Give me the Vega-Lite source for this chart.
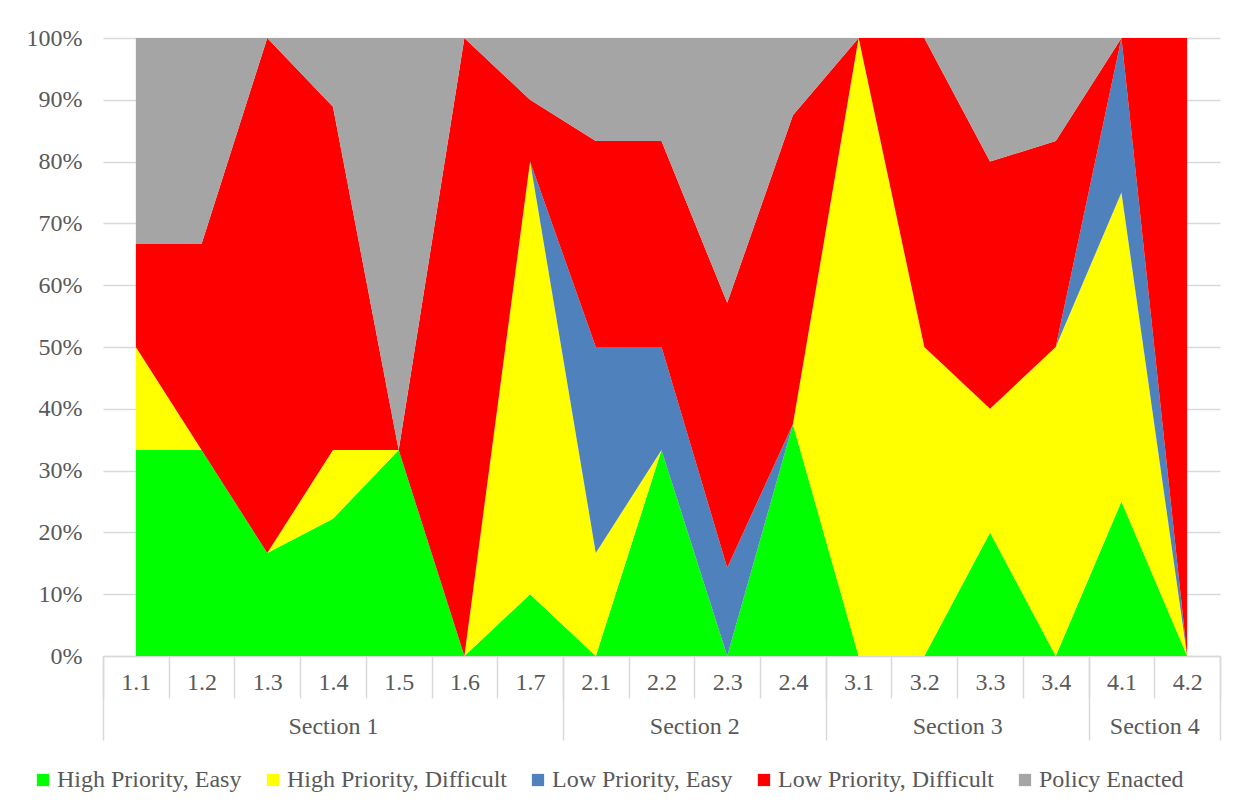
{
  "$schema": "https://vega.github.io/schema/vega-lite/v6.json",
  "width": 1117,
  "height": 618,
  "autosize": {"type": "none"},
  "padding": {"left": 103, "top": 38, "right": 16, "bottom": 151},
  "background": "white",
  "config": {
    "view": {"stroke": null},
    "font": "Liberation Serif",
    "axis": {
      "labelFont": "Liberation Serif",
      "labelFontSize": 24,
      "labelColor": "#595959",
      "titleFont": "Liberation Serif"
    },
    "legend": {
      "labelFont": "Liberation Serif",
      "labelFontSize": 24,
      "labelColor": "#595959"
    }
  },
  "datasets": {
    "tiers": [
      {"tier": "High Priority, Easy", "rank": 1},
      {"tier": "High Priority, Difficult", "rank": 2},
      {"tier": "Low Priority, Easy", "rank": 3},
      {"tier": "Low Priority, Difficult", "rank": 4},
      {"tier": "Policy Enacted", "rank": 5}
    ],
    "items": [
      {"cat": "1.1", "High Priority, Easy": 2, "High Priority, Difficult": 1, "Low Priority, Easy": 0, "Low Priority, Difficult": 1, "Policy Enacted": 2},
      {"cat": "1.2", "High Priority, Easy": 1, "High Priority, Difficult": 0, "Low Priority, Easy": 0, "Low Priority, Difficult": 1, "Policy Enacted": 1},
      {"cat": "1.3", "High Priority, Easy": 1, "High Priority, Difficult": 0, "Low Priority, Easy": 0, "Low Priority, Difficult": 5, "Policy Enacted": 0},
      {"cat": "1.4", "High Priority, Easy": 2, "High Priority, Difficult": 1, "Low Priority, Easy": 0, "Low Priority, Difficult": 5, "Policy Enacted": 1},
      {"cat": "1.5", "High Priority, Easy": 1, "High Priority, Difficult": 0, "Low Priority, Easy": 0, "Low Priority, Difficult": 0, "Policy Enacted": 2},
      {"cat": "1.6", "High Priority, Easy": 0, "High Priority, Difficult": 0, "Low Priority, Easy": 0, "Low Priority, Difficult": 1, "Policy Enacted": 0},
      {"cat": "1.7", "High Priority, Easy": 1, "High Priority, Difficult": 7, "Low Priority, Easy": 0, "Low Priority, Difficult": 1, "Policy Enacted": 1},
      {"cat": "2.1", "High Priority, Easy": 0, "High Priority, Difficult": 1, "Low Priority, Easy": 2, "Low Priority, Difficult": 2, "Policy Enacted": 1},
      {"cat": "2.2", "High Priority, Easy": 2, "High Priority, Difficult": 0, "Low Priority, Easy": 1, "Low Priority, Difficult": 2, "Policy Enacted": 1},
      {"cat": "2.3", "High Priority, Easy": 0, "High Priority, Difficult": 0, "Low Priority, Easy": 1, "Low Priority, Difficult": 3, "Policy Enacted": 3},
      {"cat": "2.4", "High Priority, Easy": 3, "High Priority, Difficult": 0, "Low Priority, Easy": 0, "Low Priority, Difficult": 4, "Policy Enacted": 1},
      {"cat": "3.1", "High Priority, Easy": 0, "High Priority, Difficult": 1, "Low Priority, Easy": 0, "Low Priority, Difficult": 0, "Policy Enacted": 0},
      {"cat": "3.2", "High Priority, Easy": 0, "High Priority, Difficult": 1, "Low Priority, Easy": 0, "Low Priority, Difficult": 1, "Policy Enacted": 0},
      {"cat": "3.3", "High Priority, Easy": 1, "High Priority, Difficult": 1, "Low Priority, Easy": 0, "Low Priority, Difficult": 2, "Policy Enacted": 1},
      {"cat": "3.4", "High Priority, Easy": 0, "High Priority, Difficult": 3, "Low Priority, Easy": 0, "Low Priority, Difficult": 2, "Policy Enacted": 1},
      {"cat": "4.1", "High Priority, Easy": 1, "High Priority, Difficult": 2, "Low Priority, Easy": 1, "Low Priority, Difficult": 0, "Policy Enacted": 0},
      {"cat": "4.2", "High Priority, Easy": 0, "High Priority, Difficult": 0, "Low Priority, Easy": 0, "Low Priority, Difficult": 1, "Policy Enacted": 0}
    ],
    "sections": [
      {"section": "Section 1", "first": 0, "last": 7},
      {"section": "Section 2", "first": 7, "last": 11},
      {"section": "Section 3", "first": 11, "last": 15},
      {"section": "Section 4", "first": 15, "last": 17}
    ]
  },
  "layer": [
    {
      "data": {"name": "items"},
      "transform": [
        {
          "fold": ["High Priority, Easy", "High Priority, Difficult", "Low Priority, Easy", "Low Priority, Difficult", "Policy Enacted"],
          "as": ["tier", "count"]
        },
        {
          "lookup": "tier",
          "from": {"data": {"name": "tiers"}, "key": "tier", "fields": ["rank"]}
        }
      ],
      "mark": {"type": "area", "interpolate": "linear", "strokeWidth": 0},
      "encoding": {
        "x": {
          "field": "cat",
          "type": "ordinal",
          "bandPosition": 0.5,
          "scale": {"type": "band", "paddingInner": 0, "paddingOuter": 0},
          "axis": {
            "orient": "bottom",
            "title": null,
            "labelAngle": 0,
            "tickBand": "extent",
            "tickSize": 42,
            "tickColor": "#d9d9d9",
            "tickWidth": 1.5,
            "domainColor": "#d9d9d9",
            "domainWidth": 1.5,
            "labelPadding": -28,
            "grid": false
          }
        },
        "y": {
          "field": "count",
          "type": "quantitative",
          "stack": "normalize",
          "axis": {
            "title": null,
            "format": ".0%",
            "values": [0, 0.1, 0.2, 0.3, 0.4, 0.5, 0.6, 0.7, 0.8, 0.9, 1],
            "domain": false,
            "ticks": false,
            "labelPadding": 21,
            "grid": true,
            "gridColor": "#d9d9d9",
            "gridWidth": 1.5
          }
        },
        "color": {
          "field": "tier",
          "type": "nominal",
          "scale": {
            "domain": ["High Priority, Easy", "High Priority, Difficult", "Low Priority, Easy", "Low Priority, Difficult", "Policy Enacted"],
            "range": ["#00ff00", "#ffff00", "#4f81bd", "#ff0000", "#a5a5a5"]
          },
          "legend": {
            "title": null,
            "orient": "none",
            "direction": "horizontal",
            "legendX": -72,
            "legendY": 730,
            "padding": 0,
            "symbolType": "square",
            "symbolSize": 150,
            "symbolStrokeWidth": 0,
            "symbolOpacity": 1,
            "labelOffset": 2,
            "labelLimit": 400,
            "columnPadding": 19
          }
        },
        "order": {"field": "rank", "type": "quantitative", "sort": "ascending"}
      }
    },
    {
      "data": {"name": "sections"},
      "mark": {"type": "rule", "opacity": 0},
      "encoding": {
        "x": {
          "field": "first",
          "type": "quantitative",
          "scale": {"domain": [0, 17], "nice": false, "zero": false},
          "axis": {
            "orient": "bottom",
            "title": null,
            "domain": false,
            "grid": false,
            "values": [0, 3.5, 7, 9, 11, 13, 15, 16, 17],
            "labelExpr": "datum.value == 3.5 ? 'Section 1' : datum.value == 9 ? 'Section 2' : datum.value == 13 ? 'Section 3' : datum.value == 16 ? 'Section 4' : ''",
            "labelOverlap": false,
            "labelBound": false,
            "labelFlush": false,
            "tickSize": 84,
            "tickColor": "#d9d9d9",
            "tickWidth": 1.5,
            "tickOpacity": {
              "condition": {"test": "indexof([0, 7, 11, 15, 17], datum.value) < 0", "value": 0},
              "value": 1
            },
            "labelPadding": -26
          }
        }
      }
    }
  ],
  "resolve": {"scale": {"x": "independent"}, "axis": {"x": "independent"}}
}
